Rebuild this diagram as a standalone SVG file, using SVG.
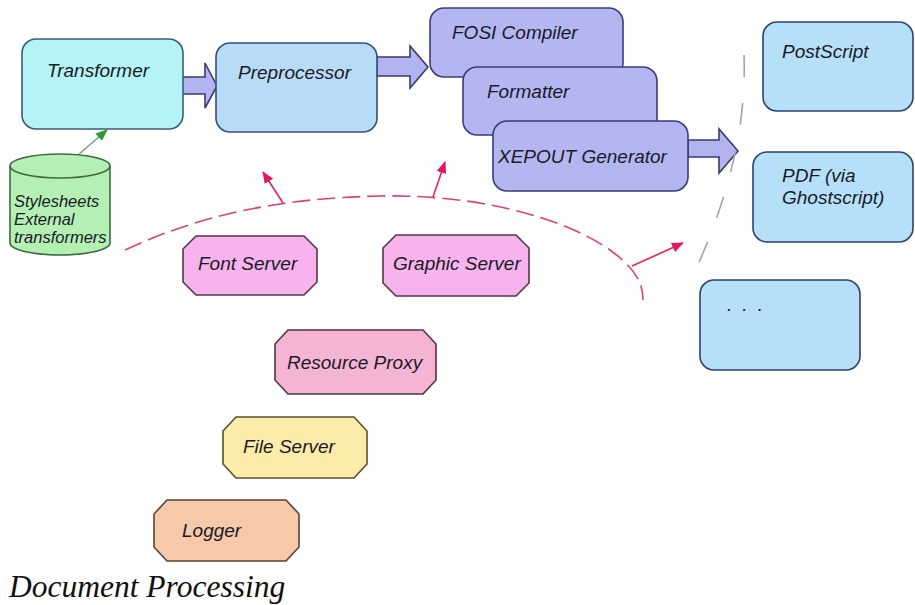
<svg xmlns="http://www.w3.org/2000/svg" width="915" height="605" viewBox="0 0 915 605">
  <defs>
    <style>
      .lbl { font-family: "Liberation Sans", Arial, sans-serif; font-style: italic; font-size: 19px; fill: #1a1a26; }
      .small { font-size: 16.5px; }
      .box { stroke-width: 1.6; }
      .cyan { fill: #b4f3f6; stroke: #3c5c74; }
      .blue { fill: #b8dbf7; stroke: #3a4c7c; }
      .lav { fill: #b4b6f2; stroke: #3a3c78; }
      .out { fill: #b6e0fa; stroke: #2e4070; }
      .green { fill: #b4efb4; stroke: #3c6a40; }
      .pinkm { fill: #f7b3ec; stroke: #56344f; }
      .pinkr { fill: #f5b4d3; stroke: #56343f; }
      .yellow { fill: #fbecaa; stroke: #585030; }
      .peach { fill: #f6c9ab; stroke: #584434; }
      .flow { fill: #b2b4f0; stroke: #3a3a70; stroke-width: 1.6; stroke-linejoin: miter; }
      .use { fill: none; stroke: #e3245c; stroke-width: 1.6; }
      .bus { fill: none; stroke: #e2406c; stroke-width: 1.6; stroke-dasharray: 18 7; }
      .sep { fill: none; stroke: #a4a4ae; stroke-width: 1.6; stroke-dasharray: 22 26; }
    </style>
    <marker id="redHead" viewBox="0 0 12 10" refX="11" refY="5" markerWidth="12" markerHeight="10" markerUnits="userSpaceOnUse" orient="auto">
      <path d="M0,0 L12,5 L0,10 Z" fill="#e3185a"/>
    </marker>
    <marker id="greenHead" viewBox="0 0 12 10" refX="11" refY="5" markerWidth="12" markerHeight="10" markerUnits="userSpaceOnUse" orient="auto">
      <path d="M0,0 L12,5 L0,10 Z" fill="#2e9a34"/>
    </marker>
  </defs>

  <rect width="915" height="605" fill="#ffffff"/>

  <!-- connectors -->
  <g id="connectors">
    <!-- block flow arrows -->
    <path class="flow" d="M182,77 H205 V63 L217,86 L205,108 V94 H182 Z"/>
    <path class="flow" d="M377,57 H410 V46 L428,67 L410,88 V76 H377 Z"/>
    <path class="flow" d="M688,140 H719 V129 L738,151 L719,173 V157 H688 Z"/>
    <!-- stylesheets feed the transformer -->
    <line x1="78" y1="155" x2="107" y2="130" stroke="#7a9e7a" stroke-width="1.5" marker-end="url(#greenHead)"/>
    <!-- service bus -->
    <path class="bus" d="M125,250 C200,215 280,198 380,196 C470,194 560,215 610,250 C632,266 643,280 643,300"/>
    <line class="use" x1="283" y1="203" x2="263" y2="172" marker-end="url(#redHead)"/>
    <line class="use" x1="433" y1="197" x2="445" y2="162" marker-end="url(#redHead)"/>
    <line class="use" x1="632" y1="266" x2="683" y2="243" marker-end="url(#redHead)"/>
    <!-- output boundary -->
    <path class="sep" d="M744,55 Q748,160 690,282"/>
  </g>

  <!-- pipeline -->
  <g id="transformer">
    <rect class="box cyan" x="22" y="39" width="161" height="90" rx="14"/>
    <text class="lbl" x="47" y="77">Transformer</text>
  </g>
  <g id="stylesheets">
    <path class="box green" d="M10,166 V243 A50,12 0 0 0 110,243 V166 A50,12 0 0 0 10,166 Z"/>
    <path d="M10,166 A50,12 0 0 0 110,166" fill="none" stroke="#3c6a40" stroke-width="1.6"/>
    <text class="lbl small" x="14" y="207">Stylesheets</text>
    <text class="lbl small" x="14" y="225">External</text>
    <text class="lbl small" x="14" y="243">transformers</text>
  </g>
  <g id="preprocessor">
    <rect class="box blue" x="216" y="43" width="161" height="89" rx="14"/>
    <text class="lbl" x="238" y="79">Preprocessor</text>
  </g>
  <g id="fosi-compiler">
    <rect class="box lav" x="430" y="8" width="193" height="69" rx="14"/>
    <text class="lbl" x="452" y="39">FOSI Compiler</text>
  </g>
  <g id="formatter">
    <rect class="box lav" x="463" y="67" width="194" height="68" rx="14"/>
    <text class="lbl" x="487" y="98">Formatter</text>
  </g>
  <g id="xepout-generator">
    <rect class="box lav" x="493" y="121" width="195" height="70" rx="14"/>
    <text class="lbl" x="498" y="163">XEPOUT Generator</text>
  </g>

  <!-- outputs -->
  <g id="postscript">
    <rect class="box out" x="763" y="22" width="150" height="89" rx="14"/>
    <text class="lbl" x="782" y="58">PostScript</text>
  </g>
  <g id="pdf">
    <rect class="box out" x="753" y="152" width="160" height="90" rx="14"/>
    <text class="lbl" x="782" y="182">PDF (via</text>
    <text class="lbl" x="782" y="204">Ghostscript)</text>
  </g>
  <g id="more-outputs">
    <rect class="box out" x="700" y="280" width="160" height="90" rx="14"/>
    <text class="lbl" x="727" y="311" style="letter-spacing:2.4px">. . .</text>
  </g>

  <!-- services -->
  <g id="font-server">
    <path class="box pinkm" d="M196,236 H304 L317,249 V282 L304,295 H196 L183,282 V249 Z"/>
    <text class="lbl" x="198" y="270">Font Server</text>
  </g>
  <g id="graphic-server">
    <path class="box pinkm" d="M396,235 H516 L529,248 V283 L516,296 H396 L383,283 V248 Z"/>
    <text class="lbl" x="393" y="270">Graphic Server</text>
  </g>
  <g id="resource-proxy">
    <path class="box pinkr" d="M288,330 H423 L436,344 V380 L423,394 H288 L275,380 V344 Z"/>
    <text class="lbl" x="287" y="369">Resource Proxy</text>
  </g>
  <g id="file-server">
    <path class="box yellow" d="M236,417 H354 L367,431 V464 L354,478 H236 L223,464 V431 Z"/>
    <text class="lbl" x="243" y="453">File Server</text>
  </g>
  <g id="logger">
    <path class="box peach" d="M167,500 H286 L299,514 V547 L286,561 H167 L154,547 V514 Z"/>
    <text class="lbl" x="182" y="537">Logger</text>
  </g>

  <text x="9" y="597" font-family="'Liberation Serif', 'Times New Roman', serif" font-style="italic" font-size="31.5" fill="#111111">Document Processing</text>
</svg>
